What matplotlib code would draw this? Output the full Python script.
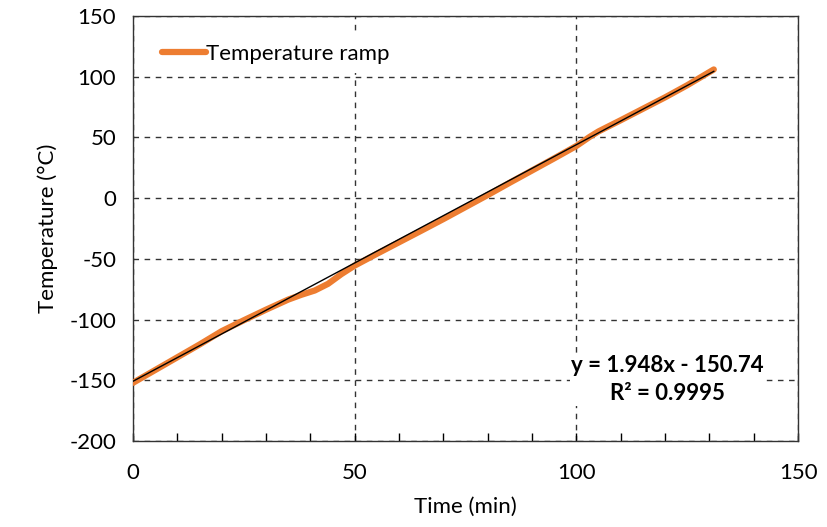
import numpy as np
import matplotlib.pyplot as plt
from matplotlib import rcParams
from matplotlib.ticker import MultipleLocator
rcParams['font.family'] = ['Lato', 'DejaVu Sans']
rcParams['axes.unicode_minus'] = False

# temperature ramp readings (min, degC)
time_min = [0, 5, 10, 15, 20, 25, 30, 35, 38, 41, 44, 47, 50, 55, 60, 65, 70, 75,
            80, 85, 90, 95, 100, 103, 105, 110, 115, 120, 125, 131]
temp_c = [-152, -141.5, -131, -120.5, -109.5, -100.5, -91.8, -83.5, -79.5, -76,
          -70.5, -62.5, -55.5, -45.8, -36.3, -26.8, -17.2, -7.3, 2.6, 12.8, 22.8,
          32.8, 43, 50.5, 55, 64.2, 73.6, 83, 93, 106]

slope = 1.948
intercept = -150.74
r2 = 0.9995

fig = plt.figure(figsize=(8.27, 5.27), dpi=100)
ax = fig.add_axes([0.1608, 0.163, 0.8042, 0.8066])

ax.plot(time_min, temp_c, color='#ED7D31', lw=4.5, solid_capstyle='round',
        solid_joinstyle='round', label='Temperature ramp', zorder=3)
xfit = np.array([0, time_min[-1]])
ax.plot(xfit, slope * xfit + intercept, color='black', lw=1, zorder=4)

ax.set_xlim(0, 150)
ax.set_ylim(-200, 150)
ax.xaxis.set_major_locator(MultipleLocator(50))
ax.xaxis.set_minor_locator(MultipleLocator(10))
ax.yaxis.set_major_locator(MultipleLocator(50))
ax.grid(True, which='major', ls=(0, (4, 4)), color='#333333', lw=1)
ax.tick_params(axis='x', which='both', direction='in', length=6, width=1, labelsize=16, pad=16)
ax.tick_params(axis='y', which='both', length=0, labelsize=16, pad=12)
for s in ax.spines.values():
    s.set_color('#333333')
    s.set_linewidth(1)

ax.set_xlabel('Time (min)', fontsize=16, labelpad=10)
ax.set_ylabel('Temperature (°C)', fontsize=16, labelpad=8)

leg = ax.legend(loc='upper left', bbox_to_anchor=(0.03, 0.955), fontsize=16,
                frameon=True, handlelength=2.0, handletextpad=0.0, borderaxespad=0)
leg.get_frame().set_facecolor('white')
leg.get_frame().set_edgecolor('none')
leg.get_frame().set_alpha(1)

ax.text(0.804, 0.145, 'y = %.3fx - %.2f\nR² = %.4f' % (slope, -intercept, r2),
        transform=ax.transAxes, ha='center', va='center', fontsize=16,
        fontweight='bold', linespacing=1.45,
        bbox=dict(facecolor='white', edgecolor='none', pad=1), zorder=5)

fig.savefig('out.png', dpi=100)
